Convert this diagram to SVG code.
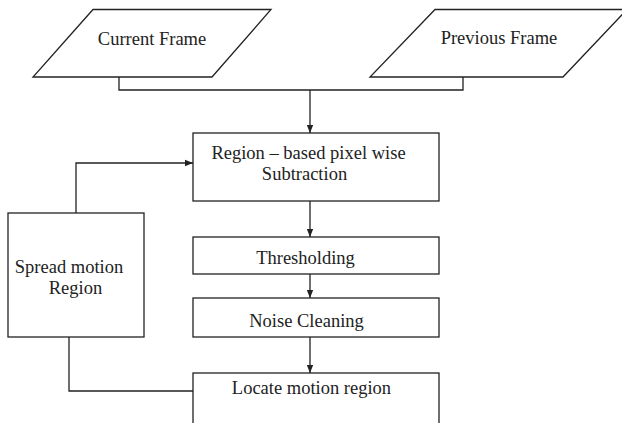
<svg xmlns="http://www.w3.org/2000/svg" width="622" height="423" viewBox="0 0 622 423">
<style>
.s{fill:#fff;stroke:#222;stroke-width:1.3}
.c{fill:none;stroke:#222;stroke-width:1.3}
text{font-family:"Liberation Serif","Times New Roman",serif;font-size:18.5px;fill:#222;text-anchor:middle}
</style>
<defs>
<marker id="ah" markerWidth="8" markerHeight="8" refX="8" refY="4" orient="auto" markerUnits="userSpaceOnUse">
<path d="M0,0.8 L8,4 L0,7.2 Z" fill="#222"/>
</marker>
</defs>
<rect width="622" height="423" fill="#fff"/>
<g id="connectors">
<path class="c" d="M119,77 V90 H463 V77"/>
<path class="c" d="M310,90 V133" marker-end="url(#ah)"/>
<path class="c" d="M310,201 V237" marker-end="url(#ah)"/>
<path class="c" d="M310,274 V298" marker-end="url(#ah)"/>
<path class="c" d="M310,337 V373" marker-end="url(#ah)"/>
<path class="c" d="M76,213 V163 H193" marker-end="url(#ah)"/>
<path class="c" d="M69,337 V391 H193"/>
</g>
<g id="current-frame">
<polygon class="s" points="93,9.5 271,9.5 212,77 33,77"/>
<text x="152" y="45">Current Frame</text>
</g>
<g id="previous-frame">
<polygon class="s" points="435,9.5 627,9.5 563,77 370,77"/>
<text x="499" y="44">Previous Frame</text>
</g>
<g id="subtraction">
<rect class="s" x="193" y="133" width="246" height="68"/>
<text x="308.5" y="159">Region – based pixel wise</text>
<text x="304.5" y="180">Subtraction</text>
</g>
<g id="thresholding">
<rect class="s" x="193" y="237" width="246" height="37"/>
<text x="305.5" y="264">Thresholding</text>
</g>
<g id="noise-cleaning">
<rect class="s" x="193" y="298" width="246" height="39"/>
<text x="306.5" y="327">Noise Cleaning</text>
</g>
<g id="locate">
<rect class="s" x="193" y="373" width="246" height="60"/>
<text x="311.5" y="394">Locate motion region</text>
</g>
<g id="spread">
<rect class="s" x="8" y="213" width="136" height="124"/>
<text x="69" y="273">Spread motion</text>
<text x="75.5" y="294">Region</text>
</g>
</svg>
